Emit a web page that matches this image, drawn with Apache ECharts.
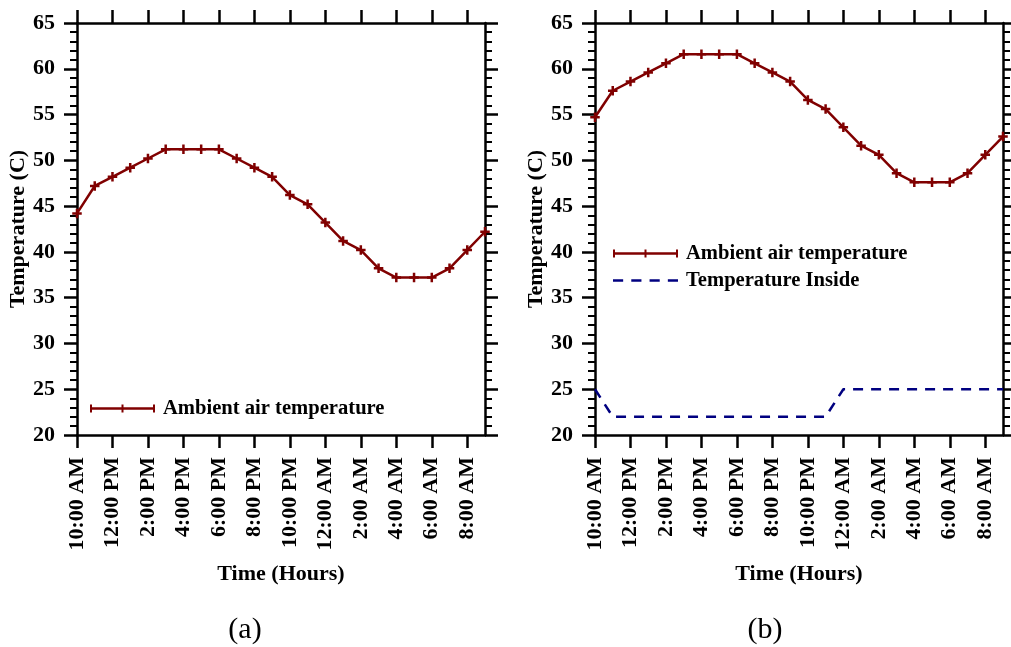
<!DOCTYPE html>
<html>
<head>
<meta charset="utf-8">
<script src="https://cdn.jsdelivr.net/npm/echarts@6/dist/echarts.min.js"></script>
<style>
html,body{margin:0;padding:0;background:#fff;}
#chart{width:1011px;height:647px;}
</style>
</head>
<body>
<div id="chart"></div>
<script>
var hours = ["10:00 AM","11:00 AM","12:00 PM","1:00 PM","2:00 PM","3:00 PM","4:00 PM","5:00 PM","6:00 PM","7:00 PM","8:00 PM","9:00 PM","10:00 PM","11:00 PM","12:00 AM","1:00 AM","2:00 AM","3:00 AM","4:00 AM","5:00 AM","6:00 AM","7:00 AM","8:00 AM","9:00 AM"];
var ambientA = [44.2,47.2,48.2,49.2,50.2,51.2,51.2,51.2,51.2,50.2,49.2,48.2,46.2,45.2,43.2,41.2,40.2,38.2,37.2,37.2,37.2,38.2,40.2,42.2];
var ambientB = [54.7,57.6,58.6,59.6,60.6,61.6,61.6,61.6,61.6,60.6,59.6,58.6,56.6,55.6,53.6,51.6,50.6,48.6,47.6,47.6,47.6,48.6,50.6,52.6];
var insideB = [25,22,22,22,22,22,22,22,22,22,22,22,22,22,25,25,25,25,25,25,25,25,25,25];
var yTicks = {min:20, max:65, step:5};
var panelLabels = ["(a)","(b)"];
var xTitle = "Time (Hours)";
var yTitle = "Temperature (C)";
var nameAmbient = "Ambient air temperature";
var nameInside = "Temperature Inside";

var FONT = "'Liberation Serif','Times New Roman',serif";
var RED = "#800000";
var NAVY = "#000080";
var plus = "path://M3.5,0 L6,0 L6,3.5 L9.5,3.5 L9.5,6 L6,6 L6,9.5 L3.5,9.5 L3.5,6 L0,6 L0,3.5 L3.5,3.5 Z";
var legLine = "path://M0,2.8 L65,2.8 L65,5.2 L0,5.2 Z M0,0 L2,0 L2,8 L0,8 Z M31.5,0 L33.5,0 L33.5,8 L31.5,8 Z M63,0 L65,0 L65,8 L63,8 Z";
var legDash = "path://M0,2.8 L10,2.8 L10,5.2 L0,5.2 Z M18,2.8 L28,2.8 L28,5.2 L18,5.2 Z M36,2.8 L46,2.8 L46,5.2 L36,5.2 Z M54,2.8 L64,2.8 L64,5.2 L54,5.2 Z";

var grids = [
  {left:77, right:526, top:23, bottom:212},
  {left:595, right:8, top:23, bottom:212}
];

function xAx(gi, pos, showLabel){
  return {
    type:'category', gridIndex:gi, position:pos, data:hours, boundaryGap:false,
    axisLine:{show:true, onZero:false, lineStyle:{color:'#000', width:2.5}},
    axisTick:{show:true, interval:1, length:13, lineStyle:{color:'#000', width:2.5}},
    axisLabel:{show:showLabel, interval:1, rotate:90, margin:22, color:'#000', fontFamily:FONT, fontWeight:'bold', fontSize:22},
    splitLine:{show:false},
    name: showLabel ? xTitle : '',
    nameLocation:'middle', nameGap:128,
    nameTextStyle:{color:'#000', fontFamily:FONT, fontWeight:'bold', fontSize:22}
  };
}
function yAx(gi, pos, showLabel){
  return {
    type:'value', gridIndex:gi, position:pos, min:yTicks.min, max:yTicks.max, interval:yTicks.step,
    axisLine:{show:true, onZero:false, lineStyle:{color:'#000', width:2.5}},
    axisTick:{show:true, length:13, lineStyle:{color:'#000', width:2.5}},
    minorTick:{show:true, splitNumber:5, length:7, lineStyle:{color:'#000', width:2}},
    axisLabel:{show:showLabel, margin:22, color:'#000', fontFamily:FONT, fontWeight:'bold', fontSize:22},
    splitLine:{show:false},
    name: showLabel ? yTitle : '',
    nameLocation:'middle', nameGap:48, nameRotate:90,
    nameTextStyle:{color:'#000', fontFamily:FONT, fontWeight:'bold', fontSize:22}
  };
}

var option = {
  backgroundColor:'#fff',
  animation:false,
  grid: grids,
  xAxis:[xAx(0,'bottom',true), xAx(0,'top',false), xAx(1,'bottom',true), xAx(1,'top',false)],
  yAxis:[yAx(0,'left',true), yAx(0,'right',false), yAx(1,'left',true), yAx(1,'right',false)],
  legend:[
    {left:85, top:393, orient:'vertical', itemWidth:65, itemHeight:8, itemGap:12,
     data:[{name:nameAmbient, icon:legLine}],
     textStyle:{color:'#000', fontFamily:FONT, fontWeight:'bold', fontSize:20.6, padding:[0,0,0,3]}},
    {left:608, top:238, orient:'vertical', itemWidth:65, itemHeight:8, itemGap:6,
     data:[{name:nameAmbient+' ', icon:legLine},{name:nameInside, icon:legDash}],
     textStyle:{color:'#000', fontFamily:FONT, fontWeight:'bold', fontSize:20.6, padding:[0,0,0,3]}}
  ],
  series:[
    {name:nameAmbient, type:'line', xAxisIndex:0, yAxisIndex:0, data:ambientA,
     symbol:plus, symbolSize:9.5, showAllSymbol:true,
     lineStyle:{color:RED, width:2.5}, itemStyle:{color:RED}},
    {name:nameAmbient+' ', type:'line', xAxisIndex:2, yAxisIndex:2, data:ambientB,
     symbol:plus, symbolSize:9.5, showAllSymbol:true,
     lineStyle:{color:RED, width:2.5}, itemStyle:{color:RED}},
    {name:nameInside, type:'line', xAxisIndex:2, yAxisIndex:2, data:insideB,
     symbol:'none',
     lineStyle:{color:NAVY, width:2.5, type:[10,8]}, itemStyle:{color:NAVY}}
  ],
  graphic:[
    {type:'text', x:245, y:630, style:{text:panelLabels[0], fill:'#000', font:'30px '+FONT, align:'center', verticalAlign:'middle'}},
    {type:'text', x:765, y:630, style:{text:panelLabels[1], fill:'#000', font:'30px '+FONT, align:'center', verticalAlign:'middle'}}
  ]
};
var chart = echarts.init(document.getElementById('chart'), null, {renderer:'canvas'});
chart.setOption(option);
</script>
</body>
</html>
